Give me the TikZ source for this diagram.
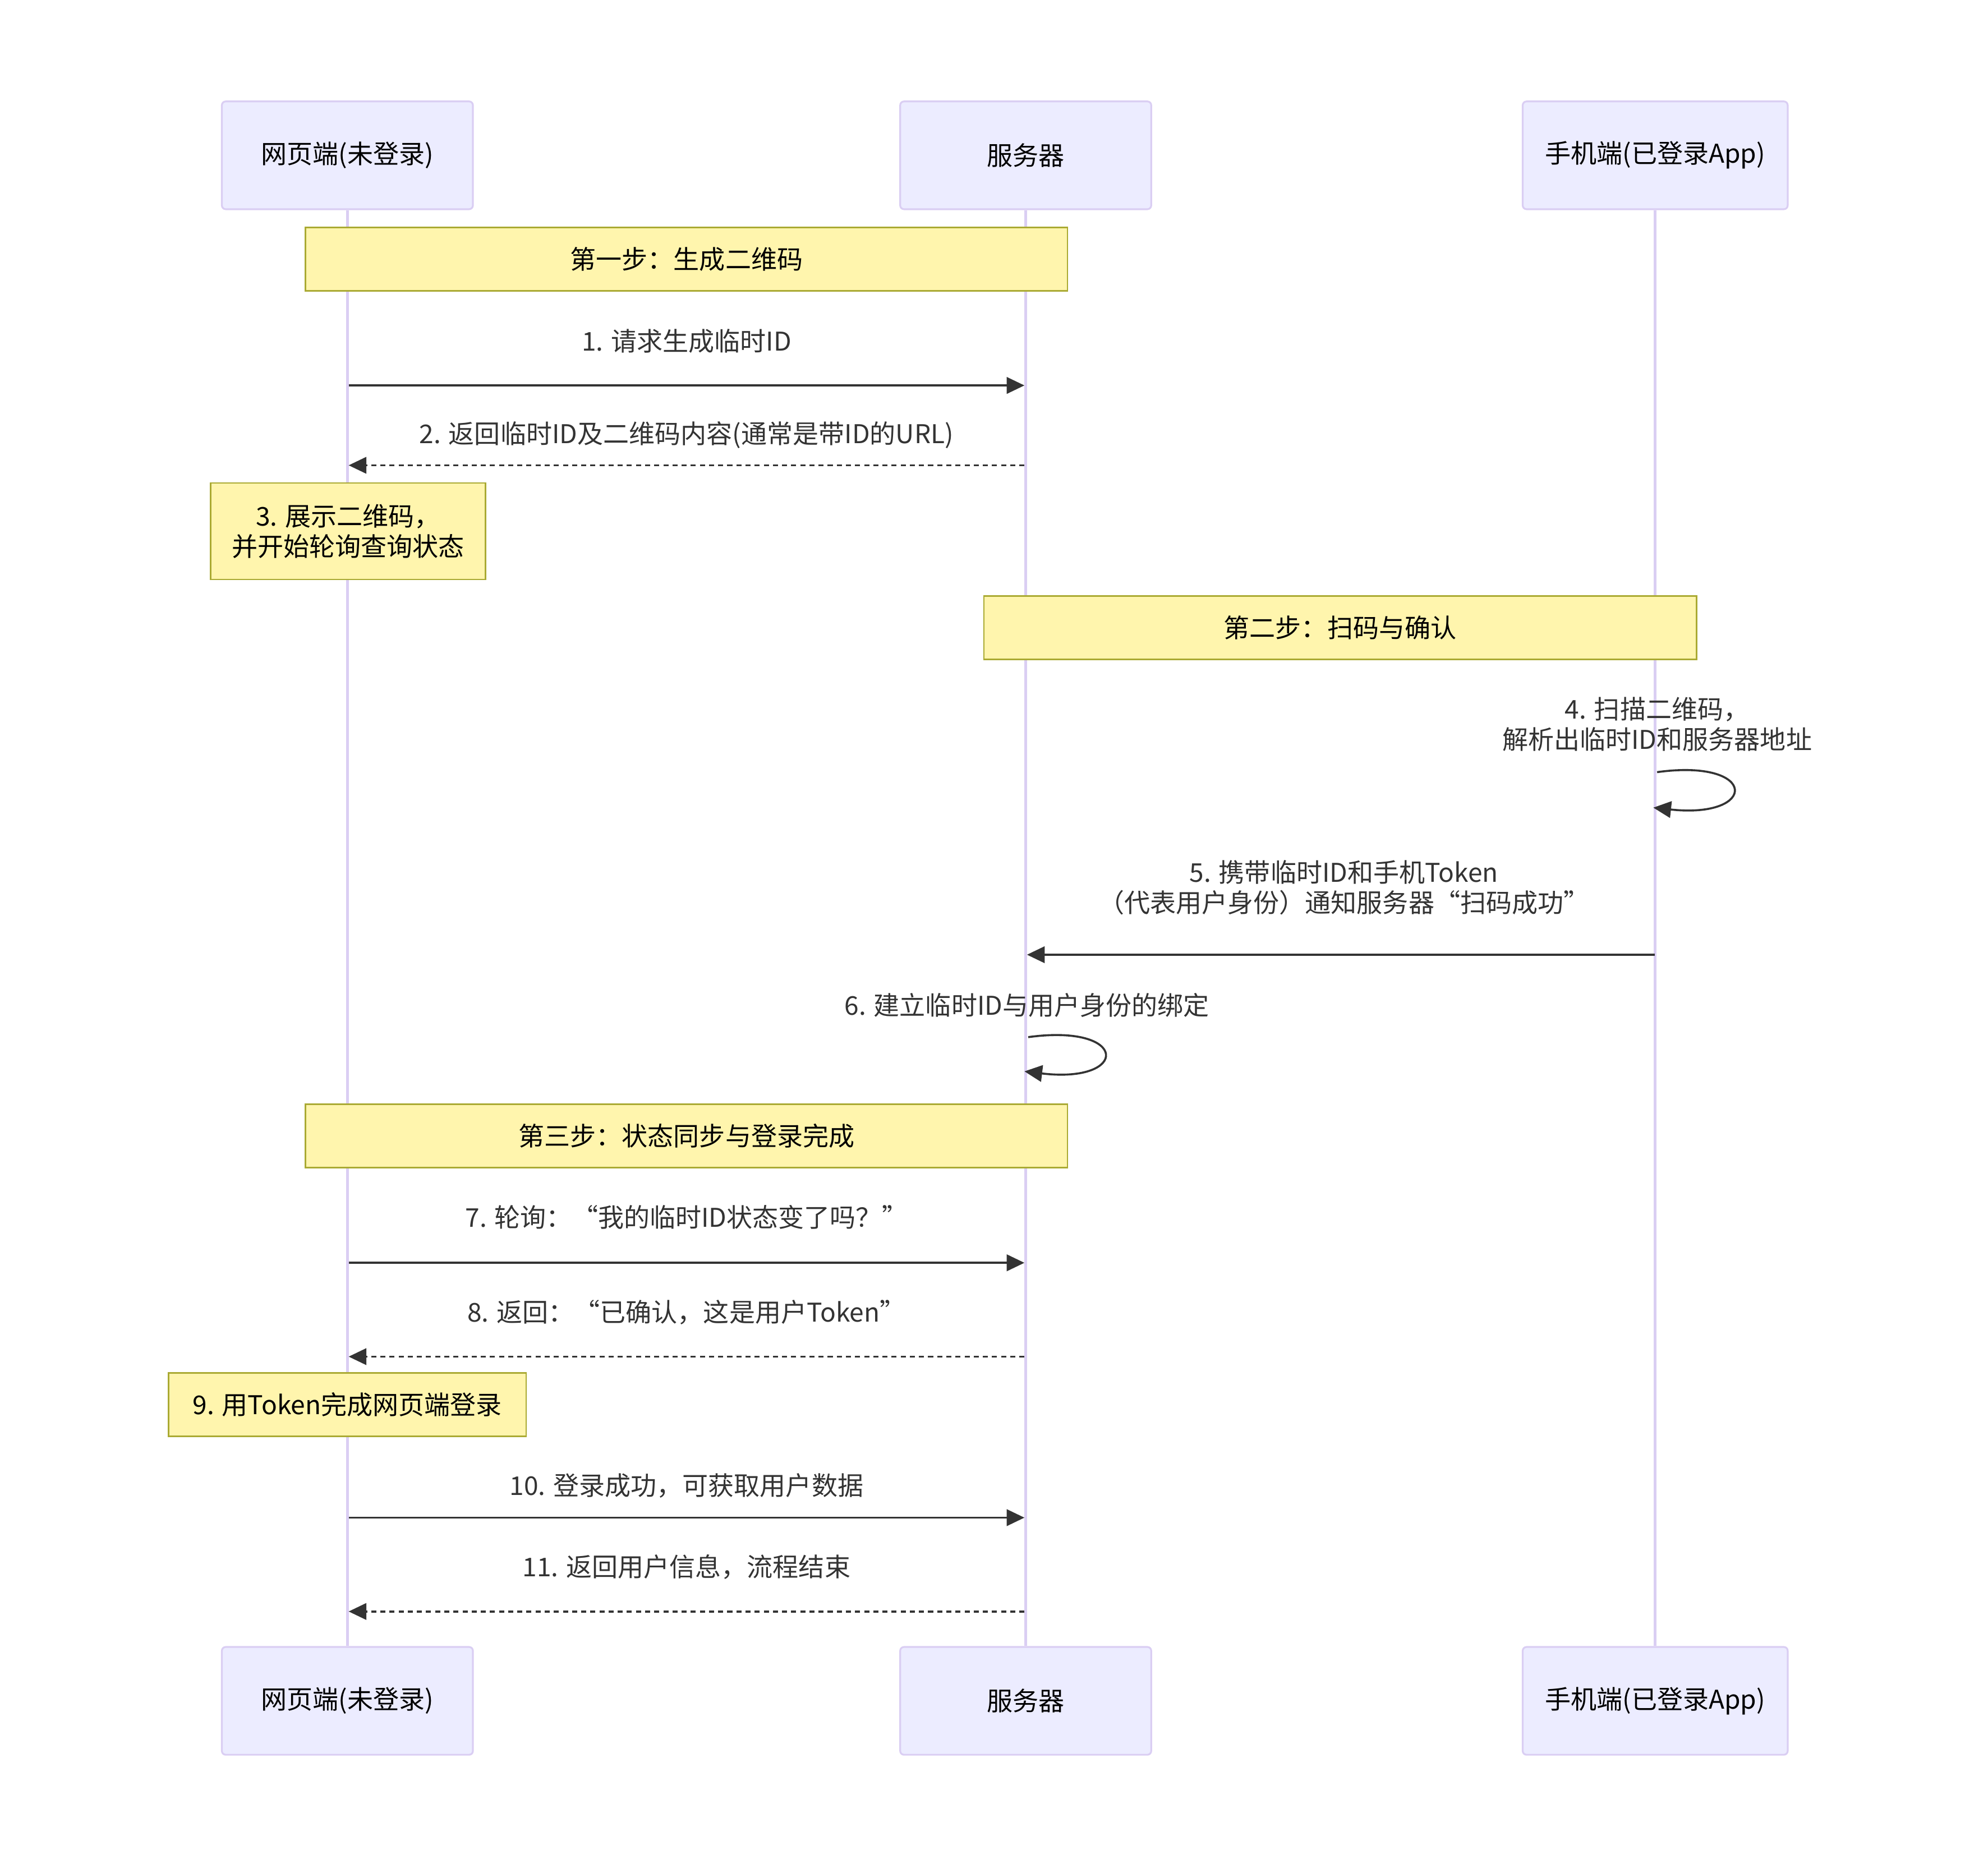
\documentclass[tikz,border=0pt]{standalone}
\usepackage{fontspec}
\setmainfont{Noto Sans CJK SC}
\usetikzlibrary{arrows.meta}
\definecolor{actfill}{HTML}{ECECFF}
\definecolor{actline}{HTML}{DACEF3}
\definecolor{notefill}{HTML}{FFF5AD}
\definecolor{noteline}{HTML}{AAAA33}
\definecolor{txt}{HTML}{333333}
\begin{document}
\begin{tikzpicture}[x=0.5mm,y=-0.5mm,
 every node/.style={font=\fontsize{29pt}{34pt}\selectfont, inner sep=0pt},
 actor/.style={draw=actline, fill=actfill, line width=0.7mm, rounded corners=1.5mm, minimum height=42.5mm, text=black},
 life/.style={draw=actline, line width=1.1mm},
 note/.style={draw=noteline, fill=notefill, line width=0.6mm, minimum height=25mm, text=black, align=center},
 msg/.style={draw=txt, line width=0.8mm, -{Triangle[length=7mm,width=6.5mm]}},
 reply/.style={msg, dash pattern=on 2mm off 1.6mm},
 lbl/.style={text=txt, align=center}]
\useasboundingbox (0,0) rectangle (1568,1466);

% actors
\node[actor, minimum width=99mm] (wT) at (274,122.5) {网页端(未登录)};
\node[actor, minimum width=99mm] (sT) at (809,122.5) {服务器};
\node[actor, minimum width=104.5mm] (pT) at (1305.5,122.5) {手机端(已登录App)};
\node[actor, minimum width=99mm] (wB) at (274,1341.5) {网页端(未登录)};
\node[actor, minimum width=99mm] (sB) at (809,1341.5) {服务器};
\node[actor, minimum width=104.5mm] (pB) at (1305.5,1341.5) {手机端(已登录App)};

% lifelines
\draw[life] (wT.south) -- (wB.north);
\draw[life] (sT.south) -- (sB.north);
\draw[life] (pT.south) -- (pB.north);

% notes
\node[note, minimum width=300.5mm] (n1) at (541.5,204.5) {第一步：生成二维码};
\node[note, minimum width=108.5mm, minimum height=38mm] (n3) at (274.5,419) {3. 展示二维码，\\并开始轮询查询状态};
\node[note, minimum width=281mm] (n2) at (1057,495) {第二步：扫码与确认};
\node[note, minimum width=300.5mm] (n4) at (541.5,896) {第三步：状态同步与登录完成};
\node[note, minimum width=141mm] (n9) at (274,1108) {9. 用Token完成网页端登录};

% message end points
\coordinate (w1) at (275,304);  \coordinate (s1) at (808,304);
\coordinate (w2) at (275,367);  \coordinate (s2) at (808,367);
\coordinate (p4a) at (1307,609); \coordinate (p4b) at (1304,637);
\coordinate (p5) at (1305,753); \coordinate (s5) at (810,753);
\coordinate (s6a) at (811,818); \coordinate (s6b) at (808,845);
\coordinate (w7) at (275,996);  \coordinate (s7) at (808,996);
\coordinate (w8) at (275,1070); \coordinate (s8) at (808,1070);
\coordinate (w10) at (275,1197); \coordinate (s10) at (808,1197);
\coordinate (w11) at (275,1271); \coordinate (s11) at (808,1271);

% labels
\node[lbl] (l1) at (541.5,269) {1. 请求生成临时ID};
\node[lbl] (l2) at (541.5,343) {2. 返回临时ID及二维码内容(通常是带ID的URL)};
\node[lbl] (l4) at (1307,571) {4. 扫描二维码，\\解析出临时ID和服务器地址};
\node[lbl] (l5) at (1060,700) {5. 携带临时ID和手机Token\\（代表用户身份）通知服务器“扫码成功”};
\node[lbl] (l6) at (810,793) {6. 建立临时ID与用户身份的绑定};
\node[lbl] (l7) at (541.5,960) {7. 轮询：“我的临时ID状态变了吗？”};
\node[lbl] (l8) at (541.5,1035) {8. 返回：“已确认，这是用户Token”};
\node[lbl] (l10) at (541.5,1172) {10. 登录成功，可获取用户数据};
\node[lbl] (l11) at (541.5,1236) {11. 返回用户信息，流程结束};

% messages
\draw[msg] (w1) -- (s1);
\draw[reply] (s2) -- (w2);
\draw[msg] (p4a) .. controls (1387,598) and (1387,646) .. (p4b);
\draw[msg] (p5) -- (s5);
\draw[msg] (s6a) .. controls (891,807) and (891,855) .. (s6b);
\draw[msg] (w7) -- (s7);
\draw[reply] (s8) -- (w8);
\draw[msg] (w10) -- (s10);
\draw[reply] (s11) -- (w11);
\end{tikzpicture}
\end{document}
